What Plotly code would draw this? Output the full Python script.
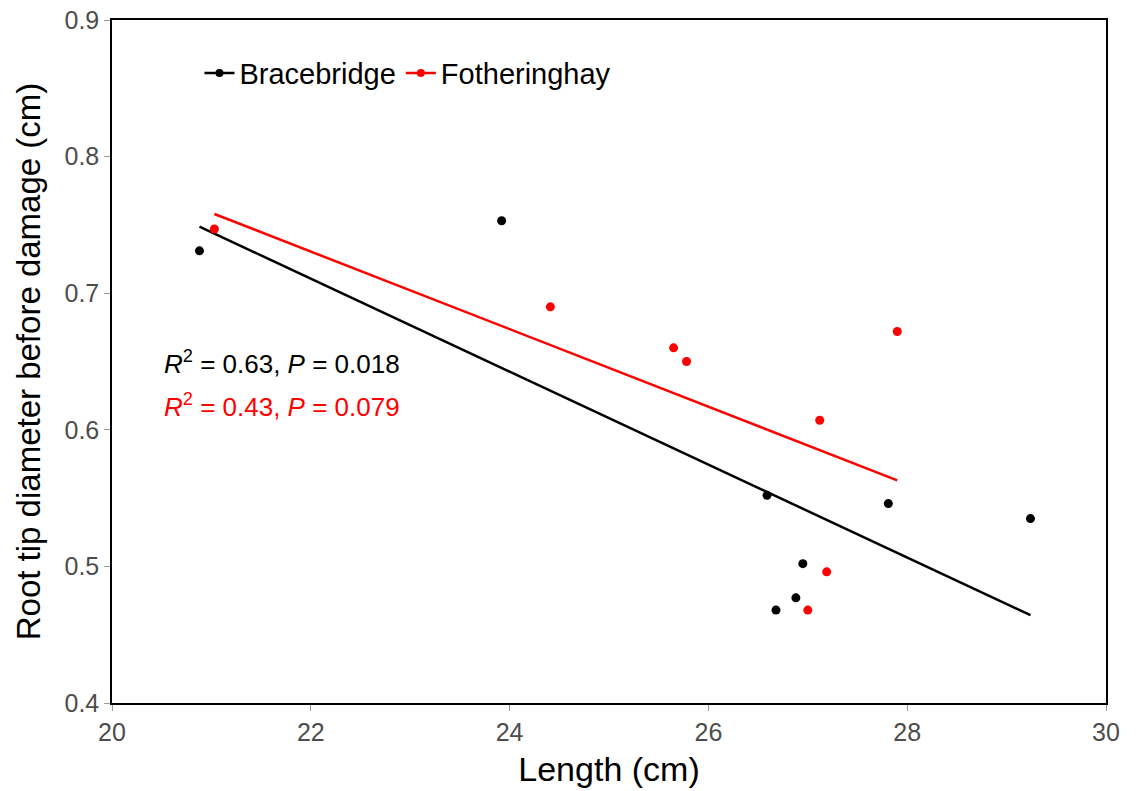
import numpy as np
import plotly.graph_objects as go

# Data
brace_x = [20.88, 23.92, 26.59, 27.81, 29.24, 26.95, 26.88, 26.68]
brace_y = [0.731, 0.753, 0.552, 0.546, 0.535, 0.502, 0.477, 0.468]
foth_x = [21.03, 24.41, 25.65, 25.78, 27.90, 27.12, 27.19, 27.00]
foth_y = [0.747, 0.690, 0.660, 0.650, 0.672, 0.607, 0.496, 0.468]

series_names = ["Bracebridge", "Fotheringhay"]
series_colors = ["black", "#ff0000"]
stats_text = ["<i>R</i><sup>2</sup> = 0.63, <i>P</i> = 0.018",
              "<i>R</i><sup>2</sup> = 0.43, <i>P</i> = 0.079"]

x_ticks = [20, 22, 24, 26, 28, 30]
y_ticks = [0.4, 0.5, 0.6, 0.7, 0.8, 0.9]

fig = go.Figure()
FONT = "Liberation Sans, Arial, sans-serif"

for xs, ys, name, col in [(brace_x, brace_y, series_names[0], series_colors[0]),
                          (foth_x, foth_y, series_names[1], series_colors[1])]:
    xs_a = np.array(xs)
    ys_a = np.array(ys)
    slope, intercept = np.polyfit(xs_a, ys_a, 1)
    lx = np.array([xs_a.min(), xs_a.max()])
    fig.add_trace(go.Scatter(x=lx, y=slope * lx + intercept, mode="lines",
                             line=dict(color=col, width=2.5), showlegend=False,
                             hoverinfo="skip"))
    fig.add_trace(go.Scatter(x=xs, y=ys, mode="markers",
                             marker=dict(color=col, size=9), showlegend=False, name=name))
    fig.add_trace(go.Scatter(x=[None], y=[None], mode="lines+markers", name=name,
                             line=dict(color=col, width=2.5),
                             marker=dict(color=col, size=8)))

for i, (txt, col) in enumerate(zip(stats_text, series_colors)):
    fig.add_annotation(x=0.05, y=0.498 - i * 0.062, xref="paper", yref="paper",
                       xanchor="left", yanchor="middle", text=txt, showarrow=False,
                       font=dict(family=FONT, size=26, color=col))

axis_common = dict(showgrid=False, zeroline=False, showline=True, linecolor="black",
                   linewidth=1.5, mirror=True, ticks="outside", ticklen=6,
                   tickcolor="#999999", tickwidth=1, ticklabeloverflow="allow",
                   automargin=False,
                   tickfont=dict(family=FONT, size=25, color="#4d4d4d"))

fig.update_xaxes(range=[20, 30], tickvals=x_ticks, ticktext=[str(v) for v in x_ticks],
                 title=dict(text="Length (cm)", font=dict(family=FONT, size=34, color="black"),
                            standoff=12),
                 **axis_common)
fig.update_yaxes(range=[0.4, 0.9], tickvals=y_ticks, ticktext=[f"{v:.1f}" for v in y_ticks],
                 title=dict(text="Root tip diameter before damage (cm)",
                            font=dict(family=FONT, size=33, color="black"), standoff=14),
                 **axis_common)

fig.update_layout(
    width=1137, height=791,
    margin=dict(l=112, r=31, t=20, b=88),
    plot_bgcolor="white", paper_bgcolor="white",
    font=dict(family=FONT),
    legend=dict(orientation="h", x=0.088, y=0.922, xanchor="left", yanchor="middle",
                font=dict(family=FONT, size=29, color="black"),
                itemwidth=30, tracegroupgap=0, bgcolor="rgba(0,0,0,0)"),
)

fig.write_html("out.html", config={"displayModeBar": False},
               post_script="document.body.style.margin='0';document.body.style.overflow='hidden';")
